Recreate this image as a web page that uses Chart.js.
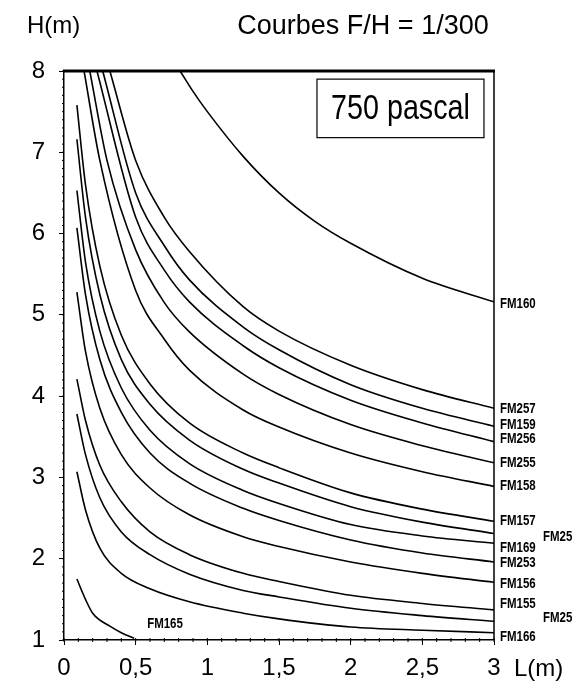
<!DOCTYPE html>
<html>
<head>
<meta charset="utf-8">
<script src="https://cdn.jsdelivr.net/npm/chart.js@4"></script>
<style>
  body { margin: 0; background: #fff; }
  canvas { display: block; }
</style>
</head>
<body>
<canvas id="myChart" width="579" height="692"></canvas>
<script>
// L(m) / H(m) pairs, one array per curve
var fm160 = [[0.81,8],[0.9,7.75],[1.0,7.5],[1.25,6.95],[1.5,6.5],[1.75,6.15],[2,5.88],[2.5,5.45],[3,5.16]];
var fm257 = [[0.32,8],[0.5,6.9],[0.7,6.2],[0.875,5.78],[1.25,5.1],[1.5,4.8],[2,4.38],[2.5,4.08],[3,3.85]];
var fm159 = [[0.27,8],[0.5,6.5],[0.7,5.85],[0.875,5.43],[1.25,4.85],[1.5,4.57],[2,4.14],[2.5,3.85],[3,3.63]];
var fm256 = [[0.23,8],[0.5,6.2],[0.7,5.55],[0.875,5.16],[1.25,4.62],[1.5,4.35],[2,3.95],[2.5,3.67],[3,3.44]];
var fm255 = [[0.18,8],[0.3,6.9],[0.5,5.8],[0.7,5.15],[0.875,4.79],[1.25,4.27],[1.5,4.02],[2,3.65],[2.5,3.39],[3,3.18]];
var fm158 = [[0.14,8],[0.25,6.9],[0.5,5.3],[0.7,4.7],[0.875,4.32],[1.25,3.83],[1.5,3.62],[2,3.3],[2.5,3.07],[3,2.89]];
var fm157 = [[0.09,7.58],[0.15,6.6],[0.25,5.6],[0.4,4.75],[0.6,4.15],[0.875,3.67],[1.25,3.3],[1.5,3.12],[2,2.81],[2.5,2.61],[3,2.46]];
var fm254 = [[0.09,7.16],[0.15,6.2],[0.25,5.25],[0.4,4.45],[0.6,3.9],[0.875,3.46],[1.25,3.1],[1.5,2.93],[2,2.64],[2.5,2.45],[3,2.31]];
var fm169 = [[0.09,6.53],[0.15,5.65],[0.25,4.8],[0.4,4.1],[0.6,3.58],[0.875,3.17],[1.25,2.84],[1.5,2.68],[2,2.42],[2.5,2.28],[3,2.19]];
var fm253 = [[0.09,6.07],[0.15,5.25],[0.25,4.45],[0.4,3.8],[0.6,3.3],[0.875,2.93],[1.25,2.62],[1.5,2.47],[2,2.23],[2.5,2.07],[3,1.96]];
var fm156 = [[0.09,5.28],[0.15,4.55],[0.25,3.85],[0.4,3.28],[0.6,2.87],[0.875,2.54],[1.25,2.27],[1.5,2.15],[2,1.96],[2.5,1.82],[3,1.71]];
var fm155 = [[0.09,4.21],[0.15,3.7],[0.25,3.15],[0.4,2.7],[0.6,2.33],[0.875,2.05],[1.25,1.82],[1.5,1.72],[2,1.55],[2.5,1.45],[3,1.37]];
var fm252 = [[0.09,3.78],[0.15,3.28],[0.25,2.75],[0.4,2.33],[0.6,2.05],[0.875,1.81],[1.25,1.61],[1.5,1.53],[2,1.39],[2.5,1.3],[3,1.23]];
var fm166 = [[0.09,3.07],[0.15,2.6],[0.25,2.13],[0.4,1.82],[0.6,1.63],[0.875,1.47],[1.25,1.33],[1.5,1.26],[2,1.16],[2.5,1.12],[3,1.09]];
var fm165 = [[0.09,1.75],[0.15,1.5],[0.2,1.33],[0.32,1.17],[0.4,1.09],[0.49,1.02]];

var curveNames = ['FM160','FM257','FM159','FM256','FM255','FM158','FM157','FM25','FM169','FM253','FM156','FM155','FM25','FM166','FM165'];
var curveData = [fm160,fm257,fm159,fm256,fm255,fm158,fm157,fm254,fm169,fm253,fm156,fm155,fm252,fm166,fm165];

var xTicks = [0,0.5,1,1.5,2,2.5,3];
var yTicks = [1,2,3,4,5,6,7,8];

// label nudges (px) so the names sit like the original
var labelDy = [2,1,-1,-3,0,0,0,4,5,1,2,-6,-3,4];
var labelDx = [6,6,6,6,6,6,6,49,6,6,6,6,49,6];

// condensed text: regular font squeezed horizontally
function narrowText(ctx, txt, x, y, sx) {
    ctx.save();
    ctx.translate(x, y);
    ctx.scale(sx, 1);
    ctx.fillText(txt, 0, 0);
    ctx.restore();
}

var frame = {
    id: 'frame',
    afterDraw: function(chart) {
        var ctx = chart.ctx, a = chart.chartArea;
        var x = chart.scales.x, y = chart.scales.y;
        ctx.save();
        ctx.strokeStyle = '#000';
        // thick top border, thin right border
        ctx.lineWidth = 3;
        ctx.beginPath(); ctx.moveTo(a.left - 1, a.top); ctx.lineTo(a.right + 1, a.top); ctx.stroke();
        ctx.lineWidth = 1.5;
        ctx.beginPath(); ctx.moveTo(a.right, a.top); ctx.lineTo(a.right, a.bottom); ctx.stroke();
        // minor ticks
        ctx.lineWidth = 1;
        for (var i = 0; i <= 30; i++) {
            var px = x.getPixelForValue(i / 10);
            ctx.beginPath(); ctx.moveTo(px, a.bottom - 2); ctx.lineTo(px, a.bottom + 2); ctx.stroke();
        }
        for (var j = 10; j <= 80; j++) {
            var py = y.getPixelForValue(j / 10);
            ctx.beginPath(); ctx.moveTo(a.left - 2, py); ctx.lineTo(a.left, py); ctx.stroke();
        }

        ctx.fillStyle = '#000';
        ctx.textBaseline = 'alphabetic';
        ctx.font = '24px "Liberation Sans", Arial, sans-serif';
        ctx.textAlign = 'left';
        ctx.fillText('H(m)', 27, 33);
        ctx.fillText('L(m)', 514, 676);
        ctx.textAlign = 'center';
        ctx.font = '27px "Liberation Sans", Arial, sans-serif';
        ctx.fillText('Courbes F/H = 1/300', 363, 34);

        // pressure box
        var bx0 = x.getPixelForValue(1.765), bx1 = x.getPixelForValue(2.93);
        var by0 = y.getPixelForValue(7.9), by1 = y.getPixelForValue(7.18);
        ctx.lineWidth = 1.2;
        ctx.strokeRect(bx0, by0, bx1 - bx0, by1 - by0);
        ctx.font = '35px "Liberation Sans", Arial, sans-serif';
        ctx.textBaseline = 'middle';
        narrowText(ctx, '750 pascal', (bx0 + bx1) / 2, (by0 + by1) / 2 + 1, 0.82);

        // curve names
        ctx.font = 'bold 14px "Liberation Sans", Arial, sans-serif';
        ctx.textAlign = 'left';
        for (var k = 0; k < 14; k++) {
            var pts = curveData[k];
            var last = pts[pts.length - 1];
            narrowText(ctx, curveNames[k], a.right + labelDx[k], y.getPixelForValue(last[1]) + labelDy[k], 0.82);
        }
        narrowText(ctx, curveNames[14], x.getPixelForValue(0.58), y.getPixelForValue(1.19), 0.82);
        ctx.restore();
    }
};

var ctx = document.getElementById('myChart').getContext('2d');
var chart = new Chart(ctx, {
    type: 'scatter',
    data: {
        datasets: curveData.map(function(pts, i) {
            return {
                label: curveNames[i],
                data: pts.map(function(p) { return {x: p[0], y: p[1]}; }),
                showLine: true,
                borderColor: '#000',
                borderWidth: 1.6,
                pointRadius: 0,
                fill: false,
                cubicInterpolationMode: 'monotone'
            };
        })
    },
    options: {
        responsive: false,
        animation: false,
        layout: { padding: { left: 0, top: 71, right: 85, bottom: 0 } },
        plugins: { legend: { display: false }, tooltip: { enabled: false } },
        scales: {
            x: {
                type: 'linear', min: 0, max: 3,
                afterFit: function(s) { s.height = 52; },
                afterBuildTicks: function(s) { s.ticks = xTicks.map(function(v) { return {value: v}; }); },
                border: { color: '#000', width: 1.5 },
                grid: { drawOnChartArea: false, color: '#000', tickLength: 5 },
                ticks: {
                    color: '#000', padding: 9, maxRotation: 0, autoSkip: false,
                    font: { family: '"Liberation Sans", Arial, sans-serif', size: 24 },
                    callback: function(v) { return String(v).replace('.', ','); }
                }
            },
            y: {
                type: 'linear', min: 1, max: 8,
                afterFit: function(s) { s.width = 64; },
                afterBuildTicks: function(s) { s.ticks = yTicks.map(function(v) { return {value: v}; }); },
                border: { color: '#000', width: 1.5 },
                grid: { drawOnChartArea: false, color: '#000', tickLength: 5 },
                ticks: {
                    color: '#000', padding: 14, autoSkip: false,
                    font: { family: '"Liberation Sans", Arial, sans-serif', size: 24 }
                }
            }
        }
    },
    plugins: [frame]
});
</script>
</body>
</html>
